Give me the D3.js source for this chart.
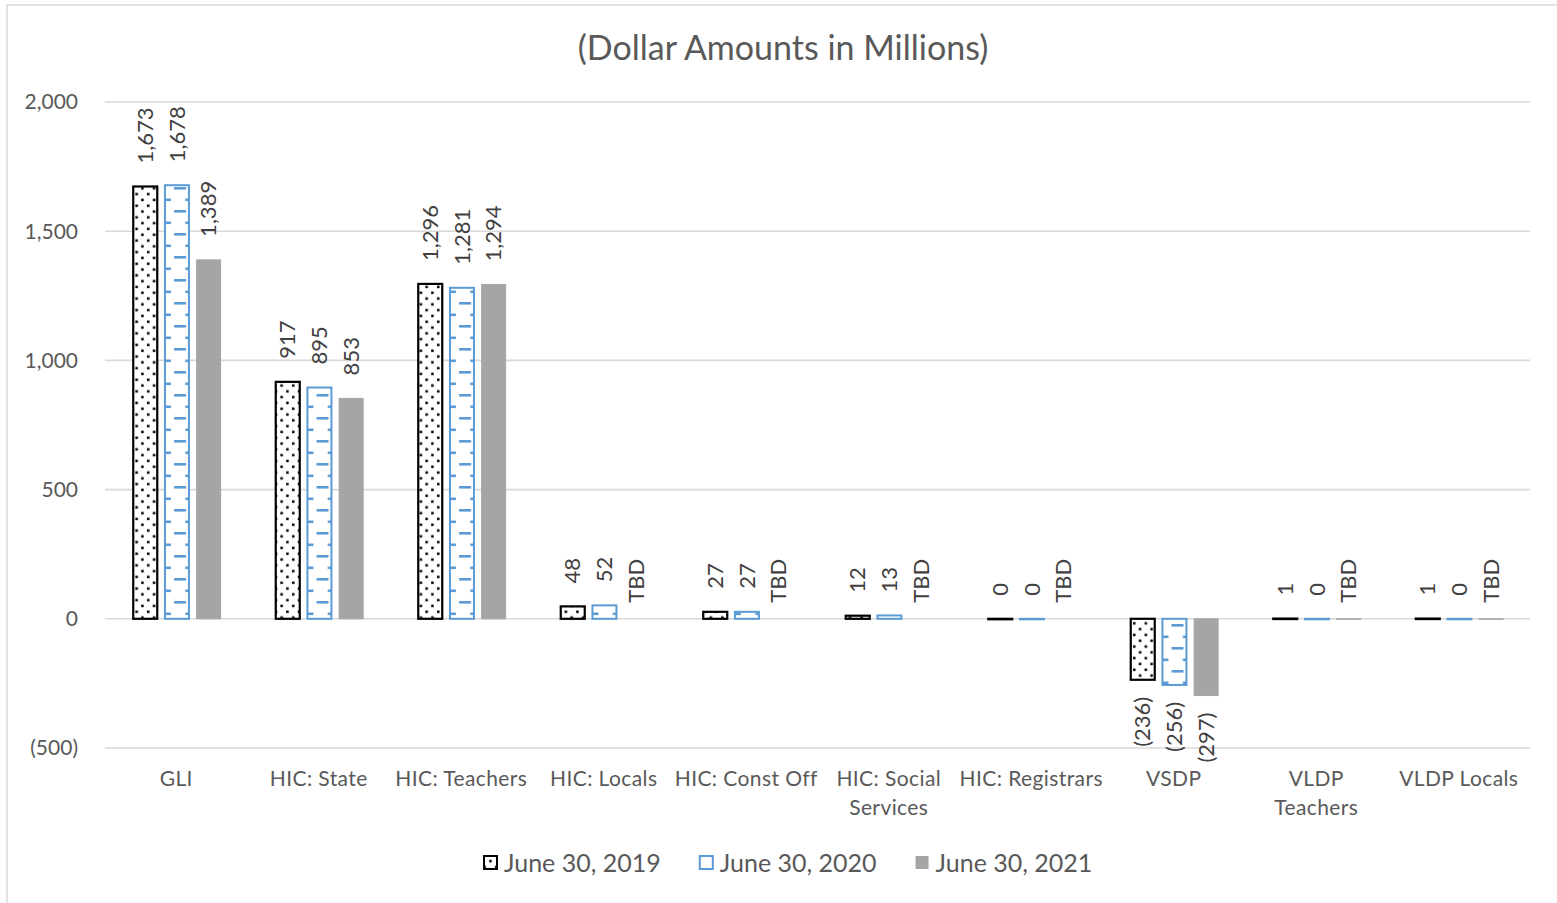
<!DOCTYPE html>
<html>
<head>
<meta charset="utf-8">
<script src="https://cdn.jsdelivr.net/npm/d3@7"></script>
<style>
  body { margin: 0; background: #fff; }
  text { font-family: Lato, "Open Sans", sans-serif; }
</style>
</head>
<body>
<div id="chart"></div>
<script>
// data
const categories = ["GLI", "HIC: State", "HIC: Teachers", "HIC: Locals", "HIC: Const Off",
  "HIC: Social Services", "HIC: Registrars", "VSDP", "VLDP Teachers", "VLDP Locals"];
const tickLines = [["GLI"], ["HIC: State"], ["HIC: Teachers"], ["HIC: Locals"], ["HIC: Const Off"],
  ["HIC: Social", "Services"], ["HIC: Registrars"], ["VSDP"], ["VLDP", "Teachers"], ["VLDP Locals"]];
const seriesNames = ["June 30, 2019", "June 30, 2020", "June 30, 2021"];
const jun2019 = [1673, 917, 1296, 48, 27, 12, 0, -236, 1, 1];
const jun2020 = [1678, 895, 1281, 52, 27, 13, 0, -256, 0, 0];
const jun2021 = [1389, 853, 1294, null, null, null, null, -297, 0, 0];
const tbd2021 = ["HIC: Locals", "HIC: Const Off", "HIC: Social Services", "HIC: Registrars", "VLDP Teachers", "VLDP Locals"];
const yTicks = [-500, 0, 500, 1000, 1500, 2000];

const W = 1557, H = 903;
const svg = d3.select("#chart").append("svg").attr("width", W).attr("height", H);

// chart area border
svg.append("rect").attr("x", 7).attr("y", 5).attr("width", W + 20).attr("height", H + 20)
  .attr("fill", "none").attr("stroke", "#d9d9d9").attr("stroke-width", 1.5);

const x = d3.scaleBand().domain(categories).range([105, 1530]).padding(0);
const y = d3.scaleLinear().domain([-500, 2000]).range([748, 102]);
const xs = d3.scaleBand().domain(seriesNames).range([-43, 44.4]).paddingInner(0.243);

const fmt = v => v < 0 ? "(" + d3.format(",")(-v) + ")" : d3.format(",")(v);

// patterns
const defs = svg.append("defs");
const dots = defs.append("pattern").attr("id", "dots").attr("patternUnits", "userSpaceOnUse")
  .attr("width", 11.6).attr("height", 11.6);
dots.append("rect").attr("width", 11.6).attr("height", 11.6).attr("fill", "#fff");
dots.append("rect").attr("x", 2).attr("y", 1.5).attr("width", 2.5).attr("height", 2.5).attr("fill", "#000");
dots.append("rect").attr("x", 7.8).attr("y", 7.3).attr("width", 2.5).attr("height", 2.5).attr("fill", "#000");

const bw = xs.bandwidth();
const dashes = defs.append("pattern").attr("id", "dashes").attr("patternUnits", "userSpaceOnUse")
  .attr("x", x(categories[0]) + x.bandwidth() / 2 + xs(seriesNames[1]))
  .attr("y", 3).attr("width", x.step()).attr("height", 23);
dashes.append("rect").attr("width", x.step()).attr("height", 23).attr("fill", "#fff");
dashes.append("rect").attr("x", bw * 0.38).attr("y", 0).attr("width", bw * 0.5).attr("height", 2.6).attr("fill", "#5b9bd5");
dashes.append("rect").attr("x", 0).attr("y", 11.5).attr("width", bw * 0.25).attr("height", 2.6).attr("fill", "#5b9bd5");
dashes.append("rect").attr("x", bw * 0.85).attr("y", 11.5).attr("width", bw * 0.15).attr("height", 2.6).attr("fill", "#5b9bd5");

const styles = [
  { fill: "url(#dots)", stroke: "#000", sw: 2.2 },
  { fill: "url(#dashes)", stroke: "#5b9bd5", sw: 2 },
  { fill: "#a5a5a5", stroke: "#a5a5a5", sw: 1 }
];

// title
svg.append("text").attr("x", 783).attr("y", 60).attr("text-anchor", "middle")
  .attr("fill", "#595959").style("font-size", "34px").text("(Dollar Amounts in Millions)");

// gridlines + y labels
svg.append("g").selectAll("line").data(yTicks).join("line")
  .attr("x1", 105).attr("x2", 1530)
  .attr("y1", d => y(d)).attr("y2", d => y(d))
  .attr("stroke", "#d9d9d9").attr("stroke-width", 1.6);
svg.append("g").selectAll("text").data(yTicks).join("text")
  .attr("x", 78).attr("y", d => y(d)).attr("dy", "0.35em").attr("text-anchor", "end")
  .attr("fill", "#595959").style("font-size", "21px").text(d => fmt(d));

// category labels
const catG = svg.append("g").selectAll("text").data(categories).join("text")
  .attr("x", d => x(d) + x.bandwidth() / 2).attr("y", 786)
  .attr("text-anchor", "middle").attr("fill", "#595959")
  .style("font-size", "21px").style("letter-spacing", "0.4px");
catG.selectAll("tspan").data((d, i) => tickLines[i]).join("tspan")
  .attr("x", function () { return d3.select(this.parentNode).attr("x"); })
  .attr("dy", (d, i) => i === 0 ? 0 : 29).text(d => d);

// bars
const rows = categories.map((c, i) => ({
  cat: c,
  vals: [jun2019[i], jun2020[i], jun2021[i]]
}));
seriesNames.forEach((s, si) => {
  const g = svg.append("g");
  const data = rows.map(r => ({ cat: r.cat, v: r.vals[si] }));
  g.selectAll("rect").data(data.filter(d => d.v !== null)).join("rect")
    .attr("x", d => x(d.cat) + x.bandwidth() / 2 + xs(s))
    .attr("width", bw)
    .attr("y", d => Math.min(y(d.v), y(0)))
    .attr("height", d => Math.max(Math.abs(y(d.v) - y(0)), 0.5))
    .attr("fill", styles[si].fill)
    .attr("stroke", styles[si].stroke)
    .attr("stroke-width", styles[si].sw);

  // data labels, rotated
  g.selectAll("text").data(data).join("text")
    .attr("transform", d => {
      const cx = x(d.cat) + x.bandwidth() / 2 + xs(s) + bw / 2;
      const isTbd = si === 2 && tbd2021.includes(d.cat);
      let ty;
      if (isTbd) ty = y(0) - 16;
      else if (d.v < 0) ty = y(d.v) + 17;
      else ty = y(d.v) - 23;
      return `translate(${cx},${ty}) rotate(-90)`;
    })
    .attr("text-anchor", d => (d.v !== null && d.v < 0) ? "end" : "start")
    .attr("dy", "0.35em")
    .attr("fill", "#404040").style("font-size", "22px")
    .text(d => (si === 2 && tbd2021.includes(d.cat)) ? "TBD" : fmt(d.v));
});

// legend
const legend = svg.append("g");
let lx = 483;
seriesNames.forEach((s, si) => {
  const item = legend.append("g");
  item.append("rect").attr("x", lx + 1).attr("y", 856).attr("width", 13).attr("height", 13)
    .attr("fill", si === 0 ? "url(#dots)" : si === 1 ? "#fff" : "#a5a5a5")
    .attr("stroke", styles[si].stroke).attr("stroke-width", si === 2 ? 0 : 2);
  const t = item.append("text").attr("x", lx + 21).attr("y", 863).attr("dy", "0.35em")
    .attr("fill", "#595959").style("font-size", "25px").text(s);
  lx += 21 + t.node().getComputedTextLength() + 38;
});
</script>
</body>
</html>
